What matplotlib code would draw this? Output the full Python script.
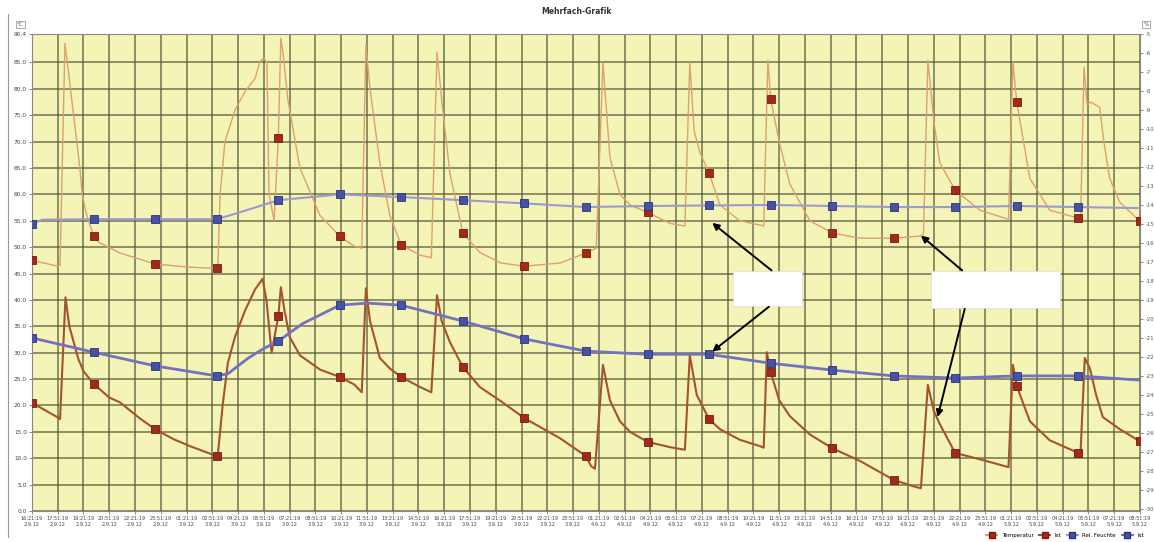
"""
Mehrfach-Grafik: two temperature channels (spiky) and two slow channels
with square markers, yellow plot area, dense grid.
"""
import matplotlib
matplotlib.use("Agg")
import matplotlib.pyplot as plt
from matplotlib.lines import Line2D
from matplotlib.patches import Rectangle
import datetime as dt

# x in grid columns (0 .. 43), one column per tick label
# upper brown channel (light line)
ub_x = [0, 1.0, 1.09, 1.28, 1.40, 1.86, 1.95, 2.1, 2.39, 2.6, 3.41, 4.78, 6.13, 7.14,
        7.22, 7.3, 7.49, 7.88, 8.27, 8.66, 8.85, 9.0, 9.12, 9.2, 9.4, 9.56, 9.66, 9.74,
        9.93, 10.4, 11.18, 11.94, 12.5, 12.8, 12.96, 13.12, 13.5, 13.89, 14.33, 15.06,
        15.5, 15.72, 15.9, 16.22, 16.72, 17.38, 18.2, 19.11, 20.5, 21.5, 21.9, 22.16,
        22.43, 22.82, 23.21, 23.89, 24.76, 25.34, 25.53, 25.7, 25.92, 26.28, 26.7, 27.47,
        28.25, 28.4, 28.56, 28.67, 29.0, 29.41, 30.19, 31.06, 32.13, 33.44, 34.46, 34.6,
        34.77, 35.0, 35.23, 35.83, 36.79, 37.76, 37.9, 38.07, 38.22, 38.73, 39.5, 40.61,
        40.7, 40.83, 40.95, 41.1, 41.44, 41.6, 41.83, 42.22, 43.0]
ub_y = [47.5, 46.4, 46.6, 88.6, 83.9, 65.0, 60.0, 56.5, 52.1, 50.9, 48.9, 46.8, 46.2, 46.0,
        47.0, 60.0, 70.0, 76.0, 79.5, 82.0, 85.2, 85.8, 85.0, 60.0, 55.0, 70.6, 89.6, 87.0,
        78.0, 65.0, 56.0, 52.1, 50.2, 49.8, 88.3, 80.0, 66.0, 56.0, 50.4, 48.5,
        48.0, 86.9, 78.0, 64.0, 52.7, 49.0, 47.0, 46.4, 47.0, 48.9, 49.8, 85.0,
        67.0, 60.0, 58.0, 56.6, 54.5, 54.0, 85.0, 72.0, 68.0, 64.0, 58.0, 55.0,
        54.2, 54.0, 85.4, 78.0, 70.0, 62.0, 55.0, 52.7, 51.7, 51.7, 52.1, 52.5,
        85.4, 74.0, 66.0, 60.8, 57.0, 55.5, 55.3, 85.0, 77.5, 63.0, 57.0, 55.5,
        55.8, 84.1, 77.0, 77.5, 76.5, 70.0, 63.0, 58.5, 54.9]

# upper blue channel
ubl_x = [0, 0.4, 2.39, 4.78, 7.17, 8.0, 9.56, 11.94, 14.33, 16.72, 19.11, 21.5, 23.89,
         26.28, 28.67, 31.06, 33.44, 35.83, 38.22, 40.61, 43.0]
ubl_y = [54.4, 55.2, 55.3, 55.3, 55.3, 56.5, 58.9, 60.0, 59.5, 58.9, 58.3, 57.6, 57.8,
         57.9, 58.0, 57.8, 57.6, 57.6, 57.8, 57.6, 57.4]

# lower brown channel (dark line)
lb_x = [0, 1.05, 1.09, 1.30, 1.45, 1.8, 2.0, 2.39, 3.0, 3.41, 4.2, 4.78, 5.5, 6.13, 7.17,
        7.22, 7.4, 7.6, 7.88, 8.27, 8.66, 8.95, 9.1, 9.3, 9.56, 9.66, 9.8, 10.0, 10.4,
        11.18, 11.94, 12.5, 12.8, 12.96, 13.12, 13.5, 13.89, 14.33, 15.06, 15.5, 15.72,
        15.9, 16.22, 16.72, 17.38, 18.2, 19.11, 20.49, 21.5, 21.7, 21.85, 22.16, 22.43,
        22.82, 23.21, 23.89, 24.76, 25.34, 25.53, 25.8, 26.28, 26.7, 27.47, 28.25, 28.4,
        28.52, 28.67, 29.0, 29.41, 30.19, 31.06, 32.13, 33.44, 34.26, 34.5, 34.77, 35.0,
        35.23, 35.83, 36.79, 37.76, 37.9, 38.07, 38.22, 38.5, 38.73, 39.5, 40.61, 40.7,
        40.86, 41.06, 41.3, 41.56, 42.22, 43.0]
lb_y = [20.5, 17.6, 17.4, 40.5, 35.0, 28.8, 26.5, 24.1, 21.5, 20.6, 17.5, 15.5, 13.6, 12.3, 10.4,
        11.0, 20.0, 28.0, 33.0, 38.0, 42.0, 44.0, 40.0, 30.0, 36.9, 42.4, 38.0, 33.0, 29.5,
        26.8, 25.4, 24.0, 22.5, 42.2, 36.0, 29.0, 27.0, 25.4, 23.5, 22.5, 40.9,
        36.0, 32.0, 27.3, 23.5, 20.8, 17.6, 13.8, 10.4, 8.5, 8.0, 27.7, 21.0,
        17.0, 15.0, 13.1, 12.1, 11.6, 29.5, 22.0, 17.4, 15.5, 13.5, 12.3, 12.0,
        30.1, 26.3, 21.0, 18.0, 14.5, 11.9, 9.5, 5.9, 4.6, 4.3, 23.9, 19.0,
        16.5, 11.0, 9.8, 8.5, 8.3, 27.7, 23.7, 20.0, 17.0, 13.4, 11.0, 11.5,
        29.0, 27.0, 22.0, 17.8, 15.5, 13.2]

# lower blue channel
lbl_x = [0, 2.39, 4.78, 7.17, 7.6, 8.4, 9.0, 9.56, 10.5, 11.94, 13.0, 14.33, 16.72, 19.11,
         21.5, 23.89, 26.28, 28.67, 31.06, 33.44, 35.83, 38.22, 40.61, 43.0]
lbl_y = [32.8, 30.1, 27.5, 25.6, 26.0, 29.0, 30.8, 32.2, 35.5, 39.0, 39.4, 39.0, 36.0, 32.6,
         30.3, 29.7, 29.7, 28.0, 26.7, 25.6, 25.2, 25.6, 25.6, 24.8]

# marker samples (every 2.39 columns)
mark_x = [0, 2.39, 4.78, 7.17, 9.56, 11.94, 14.33, 16.72, 19.11, 21.5, 23.89, 26.28,
          28.67, 31.06, 33.44, 35.83, 38.22, 40.61, 43.0]
ub_mark = [47.5, 52.1, 46.8, 46.0, 70.6, 52.1, 50.4, 52.7, 46.4, 48.9, 56.6, 64.0,
           78.0, 52.7, 51.7, 60.8, 77.5, 55.5, 54.9]
ubl_mark = [54.4, 55.3, 55.3, 55.3, 58.9, 60.0, 59.5, 58.9, 58.3, 57.6, 57.8, 57.9,
            58.0, 57.8, 57.6, 57.6, 57.8, 57.6]
lb_mark = [20.5, 24.1, 15.5, 10.4, 36.9, 25.4, 25.4, 27.3, 17.6, 10.4, 13.1, 17.4,
           26.3, 11.9, 5.9, 11.0, 23.7, 11.0, 13.2]
lbl_mark = [32.8, 30.1, 27.5, 25.6, 32.2, 39.0, 39.0, 36.0, 32.6, 30.3, 29.7, 29.7,
            28.0, 26.7, 25.6, 25.2, 25.6, 25.6]

# tick labels
left_ticks = [0, 5, 10, 15, 20, 25, 30, 35, 40, 45, 50, 55, 60, 65, 70, 75, 80, 85, 90.4]
right_ticks = list(range(-30, -4))
t0 = dt.datetime(2012, 9, 2, 16, 21, 19)
x_labels = [(t0 + dt.timedelta(minutes=90 * i)).strftime("%H:%M:%S\n%-d.%-m.%y")
            for i in range(44)]
legend_labels = ["Temperatur", "Ist", "Rel. Feuchte", "Ist"]

# colours
bg = "#f4f4b6"
grid_c = "#55553a"
c_ub = "#dea06c"
c_lb = "#a5532e"
c_red = "#a02a1c"
c_blue_up = "#9a9ad0"
c_blue_lo = "#7272c0"
c_blue_m = "#4652a2"

fig = plt.figure(figsize=(11.54, 5.42), dpi=100)
ax = fig.add_axes([0.0277, 0.0572, 0.9601, 0.8801])
ax.set_facecolor(bg)

ax.plot(ub_x, ub_y, color=c_ub, lw=1.0, zorder=3)
ax.plot(ubl_x, ubl_y, color=c_blue_up, lw=1.5, zorder=3)
ax.plot(lb_x, lb_y, color=c_lb, lw=1.5, zorder=3)
ax.plot(lbl_x, lbl_y, color=c_blue_lo, lw=2.0, zorder=3)

ms = 6.2
ax.plot(mark_x, ub_mark, ls="none", marker="s", ms=ms, mfc=c_red, mec="#7a1a10", mew=0.6, zorder=4)
ax.plot(mark_x[:len(ubl_mark)], ubl_mark, ls="none", marker="s", ms=ms, mfc=c_blue_m,
        mec="#2a3280", mew=0.6, zorder=4)
ax.plot(mark_x, lb_mark, ls="none", marker="s", ms=ms, mfc=c_red, mec="#7a1a10", mew=0.6, zorder=4)
ax.plot(mark_x[:len(lbl_mark)], lbl_mark, ls="none", marker="s", ms=ms, mfc=c_blue_m,
        mec="#2a3280", mew=0.6, zorder=4)

ax.set_xlim(0, 43)
ax.set_ylim(0, 90.4)
ax.set_xticks(range(44))
ax.set_xticklabels(x_labels, fontsize=3.6, color="#444444", linespacing=1.3)
ax.set_yticks(left_ticks)
ax.set_yticklabels([f"{v:.1f}" for v in left_ticks], fontsize=4.2, color="#444444")
ax.tick_params(axis="both", length=2, width=0.6, color="#777777", pad=1.5)
ax.grid(True, color=grid_c, lw=1.2, alpha=0.75, zorder=1)
ax.set_axisbelow(True)
for s in ax.spines.values():
    s.set_color("#888888")
    s.set_linewidth(0.8)

ax2 = ax.twinx()
ax2.set_ylim(-30.1, -5)
ax2.set_yticks(right_ticks)
ax2.set_yticklabels([str(v) for v in right_ticks], fontsize=3.8, color="#555555")
ax2.tick_params(axis="y", length=2, width=0.6, color="#777777", pad=2)
for s in ax2.spines.values():
    s.set_visible(False)

# blanked annotation boxes with arrows
ax.add_patch(Rectangle((27.2, 38.8), 2.7, 6.7, facecolor="white", edgecolor="#dddddd",
                       lw=0.5, zorder=6))
ax.add_patch(Rectangle((34.9, 38.4), 5.0, 7.1, facecolor="white", edgecolor="#dddddd",
                       lw=0.5, zorder=6))
arrows = [((28.7, 45.6), (26.4, 54.6)), ((28.6, 38.7), (26.4, 30.2)),
          ((36.1, 45.6), (34.5, 52.2)), ((36.2, 38.3), (35.15, 17.8))]
for (sx, sy), (ex, ey) in arrows:
    ax.annotate("", xy=(ex, ey), xytext=(sx, sy),
                arrowprops=dict(arrowstyle="-|>", color="black", lw=1.4,
                                mutation_scale=10, shrinkA=0, shrinkB=0),
                zorder=7)

# title and small unit boxes
fig.text(0.5, 0.978, "Mehrfach-Grafik", ha="center", va="center", fontsize=5.5,
         fontweight="bold", color="#333333")
fig.text(0.0175, 0.955, "°C", ha="center", va="center", fontsize=4, color="#444444",
         bbox=dict(boxstyle="square,pad=0.25", fc="white", ec="#888888", lw=0.5))
fig.text(0.993, 0.955, "%", ha="center", va="center", fontsize=4, color="#444444",
         bbox=dict(boxstyle="square,pad=0.25", fc="white", ec="#888888", lw=0.5))
fig.add_artist(Line2D([0.007, 0.007], [0.01, 0.975], transform=fig.transFigure,
                      color="#999999", lw=0.8))

# legend
handles = [
    Line2D([], [], color=c_ub, marker="s", ms=4, mfc=c_red, mec="#7a1a10"),
    Line2D([], [], color=c_lb, marker="s", ms=4, mfc=c_red, mec="#7a1a10"),
    Line2D([], [], color=c_blue_up, marker="s", ms=4, mfc=c_blue_m, mec="#2a3280"),
    Line2D([], [], color=c_blue_lo, marker="s", ms=4, mfc=c_blue_m, mec="#2a3280"),
]
fig.legend(handles, legend_labels, loc="lower right", bbox_to_anchor=(0.995, 0.0),
           ncol=4, fontsize=4, frameon=False, handlelength=2.0, columnspacing=1.0,
           borderpad=0.3)

fig.savefig("out.png", dpi=100)
